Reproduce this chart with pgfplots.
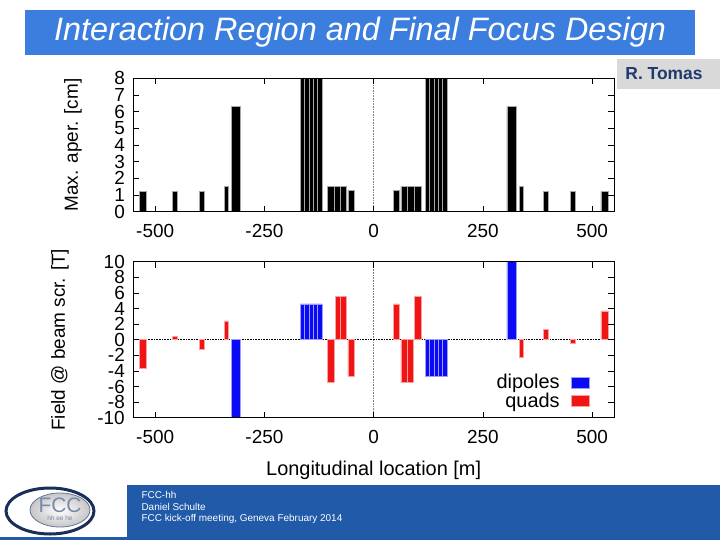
\documentclass[border=0pt]{standalone}
\usepackage{pgfplots}
\pgfplotsset{compat=1.18}
\usepackage{fontspec}
\setmainfont{Liberation Sans}
\definecolor{titleblue}{HTML}{3B7EDD}
\definecolor{footblue}{HTML}{205AA8}
\definecolor{navy}{HTML}{1F3A6E}
\definecolor{dipblue}{HTML}{0A0AF5}
\definecolor{quadred}{HTML}{F01414}
\newcommand{\fs}[1]{\fontsize{#1}{#1}\selectfont}
\pgfplotsset{
  gp/.style={
    scale only axis, width=480.7bp,
    xmin=-550, xmax=550,
    xtick={-500,-250,0,250,500},
    tick align=inside, major tick length=6bp,
    tick style={black, line width=0.6bp},
    axis line style={line width=0.8bp},
    /pgf/number format/assume math mode=true,
    ticklabel style={font=\fs{19}},
    xticklabel style={yshift=-9bp},
    yticklabel style={xshift=-5bp},
    label style={font=\fs{19}},
    axis on top,
  },
  bk/.style={fill=black, draw=gray!70, line width=0.5bp, forget plot},
  dp/.style={fill=dipblue, draw=white!60!dipblue, line width=0.5bp, forget plot},
  qd/.style={fill=quadred, draw=white!60!quadred, line width=0.5bp, forget plot},
}
\begin{document}
\begin{tikzpicture}
\path[use as bounding box] (0,0) rectangle (720bp,-540bp);
% title bar
\node[fill=titleblue, minimum width=670bp, minimum height=45bp, inner sep=0pt, text=white, font=\fs{32.5}\itshape] at (360bp,-32.5bp) {Interaction Region and Final Focus Design};
% author box
\fill[gray!30] (617bp,-59bp) rectangle (720bp,-89bp);
\node[text=navy, font=\fs{17.5}\bfseries] at (664bp,-74bp) {R. Tomas};
% footer
\fill[footblue] (127bp,-485bp) rectangle (720bp,-540bp);
\fill[footblue] (0bp,-537bp) rectangle (127bp,-540bp);
\shade[inner color=white, outer color=gray!45, draw=navy!70, line width=0.8bp] (60bp,-510bp) ellipse (30bp and 17bp);
\draw[navy!80!black, line width=3bp] (50bp,-511bp) ellipse (44bp and 23bp);
\node[text=navy!60, font=\fs{21}] at (60bp,-505bp) {FCC};
\node[text=navy!60, font=\fs{6.5}] at (60bp,-518.5bp) {hh ee he};
\node[anchor=west, text=white, font=\fs{10}] at (138bp,-495bp) {FCC-hh};
\node[anchor=west, text=white, font=\fs{10}] at (138bp,-507bp) {Daniel Schulte};
\node[anchor=west, text=white, font=\fs{10}] at (138bp,-519bp) {FCC kick-off meeting, Geneva February 2014};

% ---------- top: max aperture ----------
\begin{axis}[gp, height=133.4bp, at={(133.3bp,-211.7bp)}, anchor=south west,
  ymin=0, ymax=8, ytick={0,1,...,8},
  ylabel={Max. aper. [cm]},
  ylabel style={at={(axis description cs:-0.1254,0.5)}, anchor=center}]
\draw[densely dotted, gray, line width=0.6bp] (axis cs:0,0) -- (axis cs:0,8);
\addplot[bk] coordinates {(-536,0)(-536,1.2)(-520,1.2)(-520,0)} \closedcycle;
\addplot[bk] coordinates {(-461,0)(-461,1.2)(-450,1.2)(-450,0)} \closedcycle;
\addplot[bk] coordinates {(-399,0)(-399,1.2)(-388,1.2)(-388,0)} \closedcycle;
\addplot[bk] coordinates {(-342,0)(-342,1.5)(-333,1.5)(-333,0)} \closedcycle;
\addplot[bk] coordinates {(-326,0)(-326,6.3)(-305,6.3)(-305,0)} \closedcycle;
\addplot[bk] coordinates {(-168,0)(-168,9)(-158,9)(-158,0)} \closedcycle;
\addplot[bk] coordinates {(-158,0)(-158,9)(-148,9)(-148,0)} \closedcycle;
\addplot[bk] coordinates {(-148,0)(-148,9)(-138,9)(-138,0)} \closedcycle;
\addplot[bk] coordinates {(-138,0)(-138,9)(-128,9)(-128,0)} \closedcycle;
\addplot[bk] coordinates {(-128,0)(-128,9)(-118,9)(-118,0)} \closedcycle;
\addplot[bk] coordinates {(-106,0)(-106,1.5)(-91,1.5)(-91,0)} \closedcycle;
\addplot[bk] coordinates {(-91,0)(-91,1.5)(-76,1.5)(-76,0)} \closedcycle;
\addplot[bk] coordinates {(-76,0)(-76,1.5)(-62,1.5)(-62,0)} \closedcycle;
\addplot[bk] coordinates {(-59,0)(-59,1.3)(-45,1.3)(-45,0)} \closedcycle;
\addplot[bk] coordinates {(45,0)(45,1.3)(59,1.3)(59,0)} \closedcycle;
\addplot[bk] coordinates {(62,0)(62,1.5)(77,1.5)(77,0)} \closedcycle;
\addplot[bk] coordinates {(77,0)(77,1.5)(92,1.5)(92,0)} \closedcycle;
\addplot[bk] coordinates {(92,0)(92,1.5)(108,1.5)(108,0)} \closedcycle;
\addplot[bk] coordinates {(118,0)(118,9)(128,9)(128,0)} \closedcycle;
\addplot[bk] coordinates {(128,0)(128,9)(138,9)(138,0)} \closedcycle;
\addplot[bk] coordinates {(138,0)(138,9)(148,9)(148,0)} \closedcycle;
\addplot[bk] coordinates {(148,0)(148,9)(158,9)(158,0)} \closedcycle;
\addplot[bk] coordinates {(158,0)(158,9)(168,9)(168,0)} \closedcycle;
\addplot[bk] coordinates {(305,0)(305,6.3)(326,6.3)(326,0)} \closedcycle;
\addplot[bk] coordinates {(334,0)(334,1.5)(342,1.5)(342,0)} \closedcycle;
\addplot[bk] coordinates {(388,0)(388,1.2)(399,1.2)(399,0)} \closedcycle;
\addplot[bk] coordinates {(451,0)(451,1.2)(462,1.2)(462,0)} \closedcycle;
\addplot[bk] coordinates {(520,0)(520,1.2)(536,1.2)(536,0)} \closedcycle;
\end{axis}

% ---------- bottom: field ----------
\begin{axis}[gp, height=156bp, at={(133.3bp,-417.7bp)}, anchor=south west,
  ymin=-10, ymax=10, ytick={-10,-8,...,10},
  ylabel={Field @ beam scr. [T]},
  ylabel style={at={(axis description cs:-0.1525,0.5)}, anchor=center},
  xlabel={Longitudinal location [m]},
  xlabel style={at={(axis description cs:0.5,-0.338)}, anchor=center, font=\fs{20}},
  legend image code/.code={\fill[#1] (0bp,-5.5bp) rectangle (18bp,5.5bp);},
  legend plot pos=right,
  legend cell align=right,
  legend style={draw=none, fill=none, font=\fs{20}, at={(axis description cs:0.955,0.03)}, anchor=south east, row sep=-1.5bp,
    /tikz/every odd column/.append style={column sep=9bp}}]
\draw[densely dotted, gray, line width=0.6bp] (axis cs:0,-10) -- (axis cs:0,10);
\draw[densely dotted, black, line width=0.6bp] (axis cs:-550,0) -- (axis cs:550,0);
\addplot[fill=dipblue, draw=white!60!dipblue, line width=0.5bp] coordinates {(-326,0)(-326,-10)(-305,-10)(-305,0)} \closedcycle;
\addlegendentry{dipoles}
\addplot[fill=quadred, draw=white!60!quadred, line width=0.5bp] coordinates {(-536,0)(-536,-3.7)(-520,-3.7)(-520,0)} \closedcycle;
\addlegendentry{quads}
\addplot[qd] coordinates {(-461,0)(-461,0.4)(-450,0.4)(-450,0)} \closedcycle;
\addplot[qd] coordinates {(-399,0)(-399,-1.2)(-388,-1.2)(-388,0)} \closedcycle;
\addplot[qd] coordinates {(-342,0)(-342,2.4)(-333,2.4)(-333,0)} \closedcycle;
\addplot[dp] coordinates {(-168,0)(-168,4.6)(-158,4.6)(-158,0)} \closedcycle;
\addplot[dp] coordinates {(-158,0)(-158,4.6)(-148,4.6)(-148,0)} \closedcycle;
\addplot[dp] coordinates {(-148,0)(-148,4.6)(-138,4.6)(-138,0)} \closedcycle;
\addplot[dp] coordinates {(-138,0)(-138,4.6)(-128,4.6)(-128,0)} \closedcycle;
\addplot[dp] coordinates {(-128,0)(-128,4.6)(-118,4.6)(-118,0)} \closedcycle;
\addplot[qd] coordinates {(-106,0)(-106,-5.5)(-91,-5.5)(-91,0)} \closedcycle;
\addplot[qd] coordinates {(-88,0)(-88,5.6)(-76,5.6)(-76,0)} \closedcycle;
\addplot[qd] coordinates {(-76,0)(-76,5.6)(-62,5.6)(-62,0)} \closedcycle;
\addplot[qd] coordinates {(-59,0)(-59,-4.7)(-45,-4.7)(-45,0)} \closedcycle;
\addplot[qd] coordinates {(45,0)(45,4.6)(59,4.6)(59,0)} \closedcycle;
\addplot[qd] coordinates {(62,0)(62,-5.5)(76,-5.5)(76,0)} \closedcycle;
\addplot[qd] coordinates {(76,0)(76,-5.5)(90,-5.5)(90,0)} \closedcycle;
\addplot[qd] coordinates {(94,0)(94,5.6)(108,5.6)(108,0)} \closedcycle;
\addplot[dp] coordinates {(118,0)(118,-4.7)(128,-4.7)(128,0)} \closedcycle;
\addplot[dp] coordinates {(128,0)(128,-4.7)(138,-4.7)(138,0)} \closedcycle;
\addplot[dp] coordinates {(138,0)(138,-4.7)(148,-4.7)(148,0)} \closedcycle;
\addplot[dp] coordinates {(148,0)(148,-4.7)(158,-4.7)(158,0)} \closedcycle;
\addplot[dp] coordinates {(158,0)(158,-4.7)(168,-4.7)(168,0)} \closedcycle;
\addplot[dp] coordinates {(305,0)(305,10)(326,10)(326,0)} \closedcycle;
\addplot[qd] coordinates {(334,0)(334,-2.3)(342,-2.3)(342,0)} \closedcycle;
\addplot[qd] coordinates {(388,0)(388,1.3)(399,1.3)(399,0)} \closedcycle;
\addplot[qd] coordinates {(451,0)(451,-0.4)(462,-0.4)(462,0)} \closedcycle;
\addplot[qd] coordinates {(520,0)(520,3.7)(536,3.7)(536,0)} \closedcycle;
\end{axis}
\end{tikzpicture}
\end{document}
